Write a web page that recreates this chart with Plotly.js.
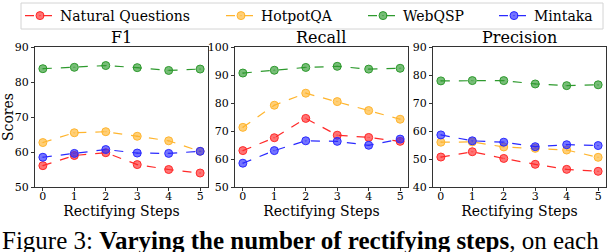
<!DOCTYPE html>
<html><head><meta charset="utf-8">
<script src="https://cdn.plot.ly/plotly-3.0.1.min.js"></script>
<style>html,body{margin:0;padding:0;background:#fff}#chart{width:608px;height:252px}</style>
</head><body><div id="chart"></div>
<script>
const steps = [0, 1, 2, 3, 4, 5];
const seriesNames = ["Natural Questions", "HotpotQA", "WebQSP", "Mintaka"];
const seriesColors = ["#ff2a2a", "#ffb52e", "#2e9a2e", "#2a2aff"];
const panelTitles = ["F1", "Recall", "Precision"];
// values per panel, order: NQ, HotpotQA, WebQSP, Mintaka
const f1 = [
  [56.1, 59.0, 59.8, 56.4, 55.0, 54.0],
  [62.7, 65.5, 65.8, 64.5, 63.2, 60.2],
  [83.8, 84.2, 84.7, 84.1, 83.3, 83.7],
  [58.5, 59.6, 60.7, 59.7, 59.6, 60.2]
];
const recall = [
  [63.0, 67.6, 74.5, 68.5, 67.7, 66.3],
  [71.3, 79.2, 83.5, 80.5, 77.3, 74.2],
  [90.7, 91.7, 92.7, 93.1, 92.1, 92.4],
  [58.5, 63.0, 66.5, 66.3, 64.9, 67.1]
];
const precision = [
  [50.7, 52.6, 50.2, 48.1, 46.3, 45.6],
  [56.0, 56.1, 54.3, 53.8, 53.2, 50.6],
  [77.9, 78.0, 78.0, 76.8, 76.2, 76.5],
  [58.6, 56.5, 56.0, 54.4, 55.1, 54.8]
];
const yRanges = [[50, 90], [50, 100], [40, 90]];
const yTicks = [[50, 60, 70, 80, 90], [50, 60, 70, 80, 90, 100], [40, 50, 60, 70, 80, 90]];
const panels = [f1, recall, precision];

const W = 608, H = 252;
const xDomains = [[35 / W, 208 / W], [235 / W, 408 / W], [433 / W, 606 / W]];
const yDomain = [1 - 187 / H, 1 - 47 / H];
const serif = "DejaVu Serif, Liberation Serif, serif";
// legend entry positions (left edge of each entry, px)
const legendLefts = [20, 221, 363, 494];

function alpha(hex, a) {
  const r = parseInt(hex.slice(1, 3), 16), g = parseInt(hex.slice(3, 5), 16), b = parseInt(hex.slice(5, 7), 16);
  return `rgba(${r},${g},${b},${a})`;
}

const traces = [];
panels.forEach((panel, p) => {
  panel.forEach((vals, s) => {
    traces.push({
      x: steps, y: vals, type: "scatter", mode: "lines+markers",
      name: seriesNames[s], legendgroup: seriesNames[s], showlegend: p === 0,
      legend: s === 0 ? "legend" : "legend" + (s + 1),
      xaxis: p === 0 ? "x" : "x" + (p + 1), yaxis: p === 0 ? "y" : "y" + (p + 1),
      line: { color: seriesColors[s], dash: "dash", width: 1.2 },
      marker: { symbol: "circle-dot", size: 8, color: alpha(seriesColors[s], 0.65), line: { color: seriesColors[s], width: 1 } }
    });
  });
});

const layout = {
  width: W, height: H, margin: { l: 0, r: 0, t: 0, b: 0 },
  paper_bgcolor: "#fff", plot_bgcolor: "#fff",
  font: { family: serif, size: 11, color: "#000" },
  showlegend: true,
  annotations: [],
  shapes: [{
    type: "rect", xref: "paper", yref: "paper",
    x0: 21 / W, x1: 603 / W, y0: 1 - 29 / H, y1: 1 - 3 / H,
    line: { color: "#d4d4d4", width: 1 }, fillcolor: "rgba(0,0,0,0)"
  }]
};

seriesNames.forEach((_, s) => {
  const key = s === 0 ? "legend" : "legend" + (s + 1);
  layout[key] = {
    orientation: "h", x: legendLefts[s] / W, y: 1 - 16 / H, xanchor: "left", yanchor: "middle",
    bgcolor: "rgba(0,0,0,0)", borderwidth: 0, font: { family: serif, size: 14 }
  };
});

panels.forEach((_, p) => {
  const sx = p === 0 ? "" : String(p + 1);
  layout["xaxis" + sx] = {
    domain: xDomains[p], range: [-0.25, 5.25], anchor: "y" + sx,
    tickvals: steps, ticks: "outside", ticklen: 3, tickcolor: "#333",
    showgrid: false, zeroline: false, showline: true, linecolor: "#333", linewidth: 1, mirror: true,
    tickfont: { family: serif, size: 11 }, ticklabelstandoff: -4,
    title: { text: "Rectifying Steps", font: { family: serif, size: 14 }, standoff: 0 }
  };
  layout["yaxis" + sx] = {
    domain: yDomain, range: yRanges[p], anchor: "x" + sx,
    tickvals: yTicks[p], ticks: "outside", ticklen: 3, tickcolor: "#333",
    showgrid: false, zeroline: false, showline: true, linecolor: "#333", linewidth: 1, mirror: true,
    tickfont: { family: serif, size: 11 },
    title: p === 0 ? { text: "Scores", font: { family: serif, size: 14 }, standoff: 4 } : { text: "" }
  };
  layout.annotations.push({
    text: panelTitles[p], xref: "paper", yref: "paper",
    x: (xDomains[p][0] + xDomains[p][1]) / 2, y: yDomain[1], yshift: -2,
    xanchor: "center", yanchor: "bottom", showarrow: false,
    font: { family: serif, size: 16 }
  });
});

layout.annotations.push({
  text: "Figure 3: <b>Varying the number of rectifying steps</b>, on each",
  xref: "paper", yref: "paper", x: 0, y: 0, xanchor: "left", yanchor: "bottom", yshift: -4,
  showarrow: false, font: { family: "Liberation Serif", size: 25, color: "#000" }
});

Plotly.newPlot("chart", traces, layout, { displayModeBar: false, staticPlot: true });
</script></body></html>
